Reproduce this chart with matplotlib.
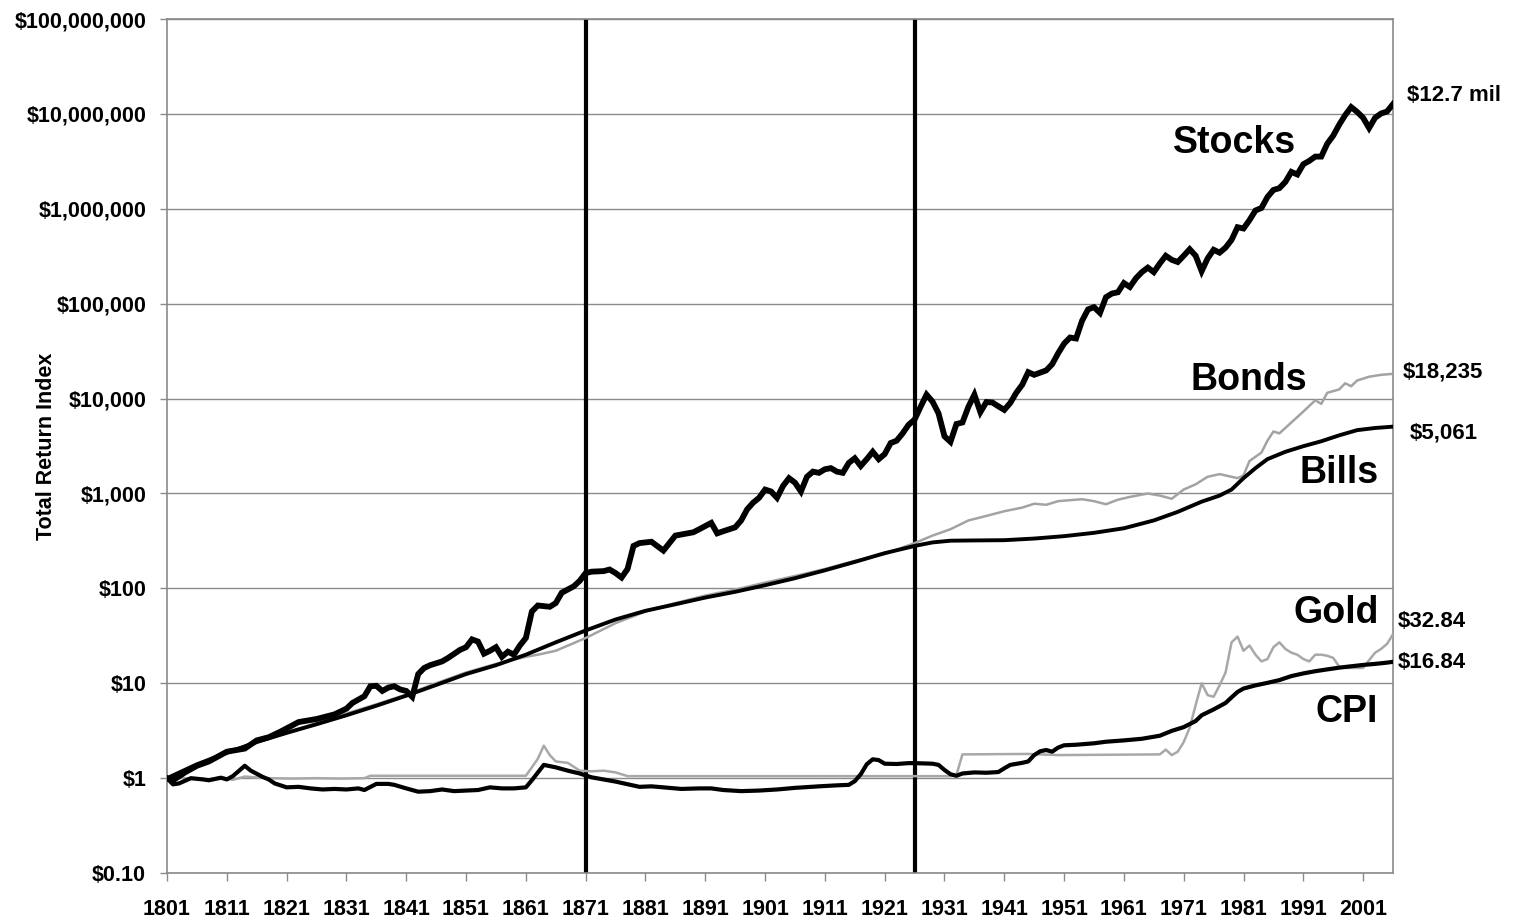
import matplotlib
matplotlib.use('Agg')
import matplotlib.pyplot as plt
from matplotlib.ticker import FixedLocator, NullLocator

# values (total return index, $1 invested in 1801)
stocks_years = [1801, 1802, 1804, 1806, 1808, 1811, 1814, 1816, 1818, 1820, 1823, 1826, 1829,
                1831, 1832, 1834, 1835, 1836, 1837, 1838, 1839, 1840, 1841, 1842, 1843, 1844,
                1845, 1847, 1848, 1850, 1851, 1852, 1853, 1854, 1855, 1856, 1857, 1858, 1859,
                1860, 1861, 1862, 1863, 1865, 1866, 1867, 1869, 1870, 1871, 1872, 1874, 1875,
                1876, 1877, 1878, 1879, 1880, 1882, 1884, 1886, 1888, 1889, 1890, 1892, 1893,
                1894, 1896, 1897, 1898, 1899, 1900, 1901, 1902, 1903, 1904, 1905, 1906, 1907,
                1908, 1909, 1910, 1911, 1912, 1913, 1914, 1915, 1916, 1917, 1918, 1919, 1920,
                1921, 1922, 1923, 1924, 1925, 1926, 1927, 1928, 1929, 1930, 1931, 1932, 1933,
                1934, 1935, 1936, 1937, 1938, 1939, 1940, 1941, 1942, 1943, 1944, 1945, 1946,
                1947, 1948, 1949, 1950, 1951, 1952, 1953, 1954, 1955, 1956, 1957, 1958, 1959,
                1960, 1961, 1962, 1963, 1964, 1965, 1966, 1967, 1968, 1969, 1970, 1971, 1972,
                1973, 1974, 1975, 1976, 1977, 1978, 1979, 1980, 1981, 1982, 1983, 1984, 1985,
                1986, 1987, 1988, 1989, 1990, 1991, 1992, 1993, 1994, 1995, 1996, 1997, 1998,
                1999, 2000, 2001, 2002, 2003, 2004, 2005, 2006]
stocks = [1.0, 0.95, 1.15, 1.35, 1.5, 1.9, 2.05, 2.5, 2.7, 3.1, 3.9, 4.2, 4.7,
          5.4, 6.2, 7.3, 9.3, 9.4, 8.3, 9.0, 9.3, 8.6, 8.3, 7.2, 12.5, 14.5,
          15.5, 17.0, 18.5, 22.5, 24, 29, 27.5, 20.5, 22, 24, 19, 21.5, 20,
          25, 30, 57, 66, 64, 70, 90, 105, 120, 145, 150, 152, 158,
          145, 130, 160, 280, 300, 310, 250, 360, 380, 390, 420, 490, 380,
          400, 440, 520, 680, 800, 900, 1100, 1050, 900, 1200, 1450, 1300, 1050,
          1500, 1700, 1650, 1800, 1850, 1700, 1650, 2100, 2350, 1950, 2300, 2750, 2300,
          2600, 3400, 3600, 4300, 5300, 6000, 8200, 11000, 9300, 7000, 4000, 3500, 5400,
          5600, 8200, 11000, 7200, 9200, 9100, 8300, 7600, 9000, 11500, 14000, 19000, 17800,
          18800, 19800, 23000, 30000, 38000, 44000, 43000, 66000, 87000, 92000, 80000, 117000, 128000,
          132000, 165000, 150000, 185000, 215000, 240000, 215000, 265000, 320000, 290000, 275000, 320000, 375000,
          320000, 220000, 300000, 370000, 345000, 390000, 470000, 640000, 620000, 760000, 960000, 1020000, 1330000,
          1580000, 1650000, 1920000, 2450000, 2300000, 2950000, 3200000, 3550000, 3550000, 4850000, 5900000, 7700000, 9700000,
          11800000, 10500000, 9100000, 7100000, 9100000, 10100000, 10600000, 12700000]

bonds_years = [1801, 1806, 1811, 1816, 1821, 1826, 1831, 1836, 1841, 1846, 1851, 1856, 1861,
               1863, 1866, 1871, 1876, 1881, 1886, 1891, 1896, 1901, 1906, 1911, 1916, 1921,
               1926, 1929, 1932, 1935, 1938, 1941, 1944, 1946, 1948, 1950, 1954, 1956, 1958,
               1960, 1962, 1965, 1967, 1969, 1971, 1973, 1975, 1977, 1979, 1980, 1981, 1982,
               1984, 1985, 1986, 1987, 1989, 1991, 1993, 1994, 1995, 1997, 1998, 1999, 2000,
               2002, 2004, 2006]
bonds = [1.0, 1.4, 1.85, 2.45, 3.05, 3.8, 4.8, 6.0, 7.6, 10, 13, 16, 19,
         20, 22, 30, 43, 57, 70, 84, 97, 115, 135, 160, 195, 230,
         300, 360, 420, 520, 580, 650, 710, 780, 760, 830, 870, 830, 770,
         860, 920, 1000, 950, 880, 1100, 1250, 1500, 1600, 1500, 1450, 1550, 2200,
         2700, 3600, 4500, 4300, 5600, 7300, 9600, 8800, 11500, 12500, 14500, 13500, 15500,
         17000, 17800, 18235]

bills_years = [1801, 1806, 1811, 1816, 1821, 1826, 1831, 1836, 1841, 1846, 1851, 1856, 1861,
               1866, 1871, 1876, 1881, 1886, 1891, 1896, 1901, 1906, 1911, 1916, 1921, 1926,
               1929, 1932, 1936, 1941, 1946, 1951, 1956, 1961, 1966, 1970, 1974, 1977, 1979,
               1981, 1983, 1985, 1988, 1991, 1994, 1997, 2000, 2003, 2006]
bills = [1.0, 1.4, 1.85, 2.4, 3.0, 3.7, 4.6, 5.8, 7.4, 9.6, 12.5, 15.5, 20,
         27, 36, 47, 58, 68, 80, 92, 108, 128, 155, 190, 235, 280,
         305, 318, 320, 322, 335, 355, 385, 430, 520, 640, 820, 950, 1100,
         1450, 1850, 2300, 2750, 3150, 3550, 4100, 4650, 4900, 5061]

gold_years = [1801, 1803, 1805, 1808, 1810, 1812, 1814, 1818, 1822, 1826, 1830, 1834, 1835,
              1861, 1862, 1863, 1864, 1865, 1866, 1868, 1870, 1872, 1874, 1876, 1878, 1932,
              1933, 1934, 1945, 1950, 1967, 1968, 1969, 1970, 1971, 1972, 1973, 1974, 1975,
              1976, 1977, 1978, 1979, 1980, 1981, 1982, 1983, 1984, 1985, 1986, 1987, 1988,
              1989, 1990, 1991, 1992, 1993, 1994, 1995, 1996, 1997, 1998, 1999, 2000, 2001,
              2002, 2003, 2004, 2005, 2006]
gold = [1.0, 1.02, 0.98, 0.97, 1.03, 0.96, 1.04, 1.0, 0.99, 1.0, 0.99, 1.0, 1.06,
        1.06, 1.3, 1.6, 2.2, 1.75, 1.5, 1.45, 1.2, 1.18, 1.2, 1.15, 1.05, 1.05,
        1.08, 1.78, 1.8, 1.75, 1.78, 2.0, 1.75, 1.9, 2.4, 3.4, 5.9, 10, 7.5,
        7.2, 9.5, 13, 27, 31, 22, 25, 20, 17, 18, 24, 27, 23,
        21, 20, 18, 17, 20, 20, 19.5, 18.5, 15, 14.5, 14.5, 14.5, 14.5,
        17.5, 21, 23, 26, 32.84]

cpi_years = [1801, 1802, 1803, 1805, 1807, 1808, 1810, 1811, 1812, 1814, 1815, 1817, 1818,
             1819, 1821, 1823, 1825, 1827, 1829, 1831, 1833, 1834, 1836, 1838, 1839, 1841,
             1843, 1845, 1847, 1849, 1851, 1853, 1855, 1857, 1859, 1861, 1862, 1864, 1866,
             1868, 1870, 1872, 1876, 1880, 1882, 1884, 1887, 1890, 1892, 1894, 1897, 1900,
             1903, 1906, 1910, 1913, 1915, 1916, 1917, 1918, 1919, 1920, 1921, 1923, 1925,
             1926, 1929, 1930, 1931, 1932, 1933, 1934, 1936, 1938, 1940, 1941, 1942, 1944,
             1945, 1946, 1947, 1948, 1949, 1950, 1951, 1953, 1956, 1958, 1961, 1964, 1967,
             1969, 1971, 1973, 1974, 1976, 1978, 1979, 1980, 1981, 1983, 1985, 1987, 1989,
             1991, 1993, 1995, 1997, 1999, 2001, 2003, 2005, 2006]
cpi = [1.0, 0.86, 0.88, 1.0, 0.97, 0.95, 1.01, 0.97, 1.05, 1.35, 1.2, 1.03, 0.97,
       0.88, 0.8, 0.81, 0.78, 0.76, 0.77, 0.76, 0.78, 0.75, 0.87, 0.87, 0.85, 0.78,
       0.72, 0.73, 0.76, 0.73, 0.74, 0.75, 0.8, 0.78, 0.78, 0.8, 0.95, 1.38, 1.3,
       1.2, 1.12, 1.02, 0.92, 0.81, 0.82, 0.8, 0.77, 0.78, 0.78, 0.75, 0.73, 0.74,
       0.76, 0.79, 0.82, 0.84, 0.85, 0.93, 1.1, 1.4, 1.58, 1.55, 1.42, 1.41, 1.44,
       1.44, 1.42, 1.38, 1.22, 1.1, 1.06, 1.12, 1.15, 1.14, 1.16, 1.27, 1.38, 1.45,
       1.5, 1.75, 1.92, 1.98, 1.9, 2.1, 2.22, 2.25, 2.33, 2.42, 2.5, 2.6, 2.8,
       3.15, 3.45, 4.0, 4.6, 5.3, 6.2, 7.1, 8.1, 8.8, 9.5, 10.1, 10.8, 11.9,
       12.7, 13.4, 14.0, 14.6, 15.1, 15.6, 16.0, 16.5, 16.84]

y_ticks = [0.1, 1, 10, 100, 1e3, 1e4, 1e5, 1e6, 1e7, 1e8]
y_labels = ['$0.10', '$1', '$10', '$100', '$1,000', '$10,000', '$100,000',
            '$1,000,000', '$10,000,000', '$100,000,000']
x_ticks = list(range(1801, 2002, 10))
era_lines = [1871, 1926]

plt.rcParams['font.family'] = ['Liberation Sans', 'DejaVu Sans']
plt.rcParams['font.weight'] = 'bold'

fig = plt.figure(figsize=(15.13, 9.19), dpi=100)
ax = fig.add_axes([0.1104, 0.0500, 0.8103, 0.9293])

grey = '#8a8a8a'
ax.set_yscale('log')
ax.set_ylim(0.1, 1e8)
ax.set_xlim(1801, 2006)
ax.yaxis.set_major_locator(FixedLocator(y_ticks))
ax.yaxis.set_minor_locator(NullLocator())
ax.set_yticklabels(y_labels, fontsize=15.5, fontweight='bold')
ax.set_xticks(x_ticks)
ax.set_xticklabels([str(y) for y in x_ticks], fontsize=15.5, fontweight='bold')
ax.tick_params(axis='y', length=5, width=1, color=grey, pad=10)
ax.tick_params(axis='x', length=6, width=1, color=grey, pad=13)
ax.yaxis.grid(True, color=grey, lw=1.0)
ax.set_axisbelow(True)
for s in ax.spines.values():
    s.set_color(grey)
    s.set_linewidth(1.2)

for yr in era_lines:
    ax.axvline(yr, color='black', lw=3, zorder=2)

# grey series first, black ones on top
ax.plot(gold_years, gold, color='#a8a8a8', lw=1.8, zorder=3)
ax.plot(bonds_years, bonds, color='#a3a3a3', lw=1.8, zorder=3)
ax.plot(cpi_years, cpi, color='black', lw=3.0, zorder=4)
ax.plot(bills_years, bills, color='black', lw=2.8, zorder=4)
ax.plot(stocks_years, stocks, color='black', lw=4.2, zorder=5, solid_joinstyle='miter')

ax.set_ylabel('Total Return Index', fontsize=15.5, fontweight='bold', labelpad=0)
ax.yaxis.set_label_coords(-0.0894, 0.5)

# series names inside the plot
names = [('Stocks', 0.871, 0.855), ('Bonds', 0.8825, 0.577), ('Bills', 0.956, 0.468),
         ('Gold', 0.954, 0.304), ('CPI', 0.9625, 0.1885)]
for txt, x, y in names:
    ax.text(x, y, txt, transform=ax.transAxes, fontsize=27, fontweight='bold',
            ha='center', va='center')

# end values to the right of the plot
ends = [('$12.7 mil', 0.910), ('$18,235', 0.5867), ('$5,061', 0.515),
        ('$32.84', 0.294), ('$16.84', 0.246)]
end_x = [1.0114, 1.008, 1.0139, 1.004, 1.004]
for (txt, y), x in zip(ends, end_x):
    ax.text(x, y, txt, transform=ax.transAxes, fontsize=16, fontweight='bold',
            ha='left', va='center')

fig.savefig('out.png', dpi=100)
